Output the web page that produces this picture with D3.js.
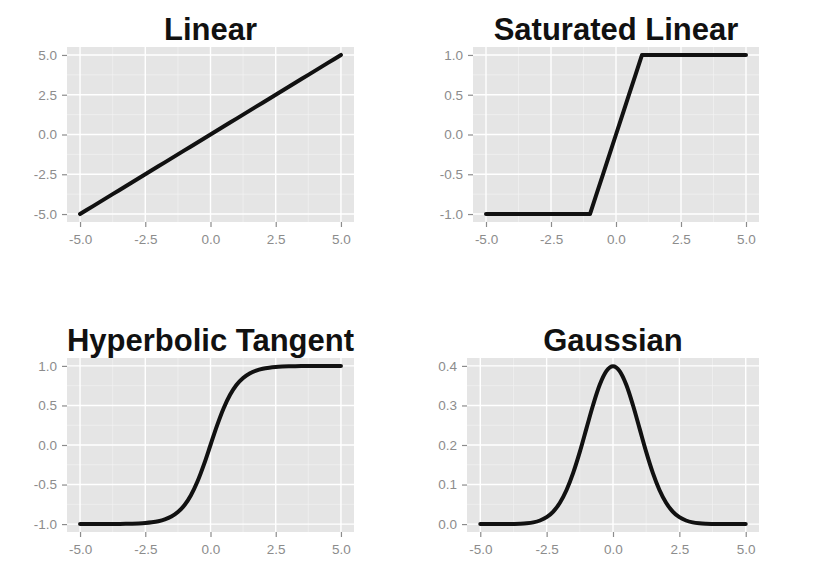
<!DOCTYPE html>
<html><head><meta charset="utf-8">
<script src="https://cdn.jsdelivr.net/npm/d3@7"></script>
<style>html,body{margin:0;padding:0;background:#fff;}svg{display:block;}</style>
</head><body>
<svg id="chart" width="824" height="578"></svg>
<script>
// ---- data ----
const xValues = [-5,-4.75,-4.5,-4.25,-4,-3.75,-3.5,-3.25,-3,-2.75,-2.5,-2.25,-2,-1.75,-1.5,-1.25,-1,-0.75,-0.5,-0.25,0,
  0.25,0.5,0.75,1,1.25,1.5,1.75,2,2.25,2.5,2.75,3,3.25,3.5,3.75,4,4.25,4.5,4.75,5];
const linearY = [-5,-4.75,-4.5,-4.25,-4,-3.75,-3.5,-3.25,-3,-2.75,-2.5,-2.25,-2,-1.75,-1.5,-1.25,-1,-0.75,-0.5,-0.25,0,
  0.25,0.5,0.75,1,1.25,1.5,1.75,2,2.25,2.5,2.75,3,3.25,3.5,3.75,4,4.25,4.5,4.75,5];
const satLinearY = [-1,-1,-1,-1,-1,-1,-1,-1,-1,-1,-1,-1,-1,-1,-1,-1,-1,-0.75,-0.5,-0.25,0,
  0.25,0.5,0.75,1,1,1,1,1,1,1,1,1,1,1,1,1,1,1,1,1];
const tanhY = [-1,-1,-1,-1,-0.999,-0.999,-0.998,-0.997,-0.995,-0.992,-0.987,-0.978,-0.964,-0.941,-0.905,-0.848,-0.762,-0.635,-0.462,-0.245,0,
  0.245,0.462,0.635,0.762,0.848,0.905,0.941,0.964,0.978,0.987,0.992,0.995,0.997,0.998,0.999,0.999,1,1,1,1];
const gaussY = [0,0,0,0,0.0001,0.0004,0.0009,0.002,0.0044,0.0091,0.0175,0.0317,0.054,0.0863,0.1295,0.1826,0.242,0.3011,0.3521,0.3867,0.3989,
  0.3867,0.3521,0.3011,0.242,0.1826,0.1295,0.0863,0.054,0.0317,0.0175,0.0091,0.0044,0.002,0.0009,0.0004,0.0001,0,0,0,0];
const titles = ["Linear","Saturated Linear","Hyperbolic Tangent","Gaussian"];
const xTicks = [-5,-2.5,0,2.5,5];
const linearTicks = [-5,-2.5,0,2.5,5];
const unitTicks = [-1,-0.5,0,0.5,1];
const gaussTicks = [0,0.1,0.2,0.3,0.4];

const fmt1 = v => d3.format(".1f")(v).replace("\u2212","-");
const panels = [
  {title: titles[0], y: linearY, ticks: linearTicks, box:[67,354,47,222], curve: d3.curveLinear},
  {title: titles[1], y: satLinearY, ticks: unitTicks, box:[473,759,47,222], curve: d3.curveLinear},
  {title: titles[2], y: tanhY, ticks: unitTicks, box:[67,354,358,532], curve: d3.curveMonotoneX},
  {title: titles[3], y: gaussY, ticks: gaussTicks, box:[467,759,358,532], curve: d3.curveMonotoneX}
];

const svg = d3.select("#chart");
const font = "'Liberation Sans', Arial, Helvetica, sans-serif";

function minors(t){ const m=[]; for(let i=0;i<t.length-1;i++) m.push((t[i]+t[i+1])/2); return m; }

panels.forEach(p => {
  const [l,r,t,b] = p.box;
  const xmin = d3.min(xValues), xmax = d3.max(xValues);
  const ymin = d3.min(p.ticks), ymax = d3.max(p.ticks);
  const xe = (xmax-xmin)*0.05, ye = (ymax-ymin)*0.05;
  const x = d3.scaleLinear().domain([xmin-xe, xmax+xe]).range([l,r]);
  const y = d3.scaleLinear().domain([ymin-ye, ymax+ye]).range([b,t]);
  const g = svg.append("g");
  g.append("rect").attr("x",l).attr("y",t).attr("width",r-l).attr("height",b-t).attr("fill","#e5e5e5");
  // minor grid
  minors(xTicks).forEach(v => g.append("line").attr("x1",x(v)).attr("x2",x(v)).attr("y1",t).attr("y2",b).attr("stroke","#f2f2f2").attr("stroke-width",0.7));
  minors(p.ticks).forEach(v => g.append("line").attr("y1",y(v)).attr("y2",y(v)).attr("x1",l).attr("x2",r).attr("stroke","#f2f2f2").attr("stroke-width",0.7));
  // major grid
  xTicks.forEach(v => g.append("line").attr("x1",x(v)).attr("x2",x(v)).attr("y1",t).attr("y2",b).attr("stroke","#ffffff").attr("stroke-width",1.4));
  p.ticks.forEach(v => g.append("line").attr("y1",y(v)).attr("y2",y(v)).attr("x1",l).attr("x2",r).attr("stroke","#ffffff").attr("stroke-width",1.4));
  // axes
  const xa = d3.axisBottom(x).tickValues(xTicks).tickFormat(fmt1).tickSize(5).tickPadding(7);
  const ya = d3.axisLeft(y).tickValues(p.ticks).tickFormat(fmt1).tickSize(5).tickPadding(5);
  const gx = g.append("g").attr("transform",`translate(0,${b})`).call(xa);
  const gy = g.append("g").attr("transform",`translate(${l},0)`).call(ya);
  [gx,gy].forEach(a => {
    a.select(".domain").remove();
    a.selectAll(".tick line").attr("stroke","#8c8c8c").attr("stroke-width",1.2);
    a.selectAll(".tick text").attr("fill","#8c8c8c").style("font-family",font).style("font-size","13.5px");
  });
  // line
  const data = xValues.map((xv,i)=>[xv,p.y[i]]);
  g.append("path").datum(data)
    .attr("d", d3.line().x(d=>x(d[0])).y(d=>y(d[1])).curve(p.curve))
    .attr("fill","none").attr("stroke","#111").attr("stroke-width",4)
    .attr("stroke-linecap","round").attr("stroke-linejoin","round");
  // title
  g.append("text").attr("x",(l+r)/2).attr("y",t-7).attr("text-anchor","middle")
    .style("font-family",font).style("font-weight","bold").style("font-size","31px").attr("fill","#111")
    .text(p.title);
});
</script>
</body></html>
